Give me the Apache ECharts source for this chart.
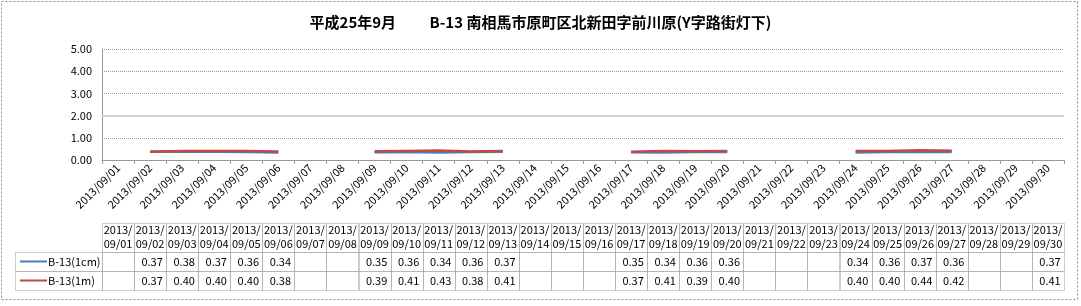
<!DOCTYPE html>
<html><head><meta charset="utf-8">
<script src="https://cdn.jsdelivr.net/npm/echarts@6/dist/echarts.min.js"></script>
<style>html,body{margin:0;padding:0;background:#fff}#c{width:1081px;height:306px}</style>
</head><body><div id="c"></div>
<script>
var title = '平成25年9月　　 B-13 南相馬市原町区北新田字前川原(Y字路街灯下)';
var categories = ['2013/09/01','2013/09/02','2013/09/03','2013/09/04','2013/09/05','2013/09/06','2013/09/07','2013/09/08','2013/09/09','2013/09/10','2013/09/11','2013/09/12','2013/09/13','2013/09/14','2013/09/15','2013/09/16','2013/09/17','2013/09/18','2013/09/19','2013/09/20','2013/09/21','2013/09/22','2013/09/23','2013/09/24','2013/09/25','2013/09/26','2013/09/27','2013/09/28','2013/09/29','2013/09/30'];
var seriesNames = ['B-13(1cm)', 'B-13(1m)'];
var s1cm = [null,0.37,0.38,0.37,0.36,0.34,null,null,0.35,0.36,0.34,0.36,0.37,null,null,null,0.35,0.34,0.36,0.36,null,null,null,0.34,0.36,0.37,0.36,null,null,0.37];
var s1m  = [null,0.37,0.40,0.40,0.40,0.38,null,null,0.39,0.41,0.43,0.38,0.41,null,null,null,0.37,0.41,0.39,0.40,null,null,null,0.40,0.40,0.44,0.42,null,null,0.41];
var yTicks = [0, 1, 2, 3, 4, 5];
var colors = ['#4a7ebb', '#be4b48'];

var FONT = '"Noto Sans CJK JP", "Noto Sans", sans-serif';
var chart = echarts.init(document.getElementById('c'), null, {renderer: 'canvas'});
chart.setOption({
  animation: false,
  backgroundColor: '#fff',
  title: {text: title, left: 'center', top: 10, textStyle: {fontFamily: FONT, fontSize: 15, fontWeight: 'bold', color: '#000'}},
  grid: {left: 102, right: 17, top: 49, bottom: 146, containLabel: false},
  xAxis: {
    type: 'category', data: categories, boundaryGap: true,
    axisLine: {lineStyle: {color: '#999', width: 1}},
    axisTick: {show: true, length: 4, lineStyle: {color: '#999'}},
    axisLabel: {rotate: 45, fontSize: 11, color: '#000', fontFamily: FONT, margin: 6, interval: 0}
  },
  yAxis: {
    type: 'value', min: yTicks[0], max: yTicks[yTicks.length-1], interval: 1,
    axisLine: {show: true, lineStyle: {color: '#999'}},
    axisTick: {show: false},
    splitLine: {lineStyle: {color: '#999', type: [1, 1], width: 1}},
    axisLabel: {formatter: function(v){return v.toFixed(2);}, fontSize: 11, color: '#000', fontFamily: FONT, margin: 10}
  },
  series: [
    {name: seriesNames[0], type: 'line', data: s1cm, showSymbol: false, connectNulls: false,
     lineStyle: {color: colors[0], width: 2.5}, itemStyle: {color: colors[0]},
     markLine: {silent: true, symbol: 'none', label: {show: false}, data: [{yAxis: 2}], lineStyle: {color: '#cfcfcf', width: 2, type: 'solid'}}},
    {name: seriesNames[1], type: 'line', data: s1m, showSymbol: false, connectNulls: false,
     lineStyle: {color: colors[1], width: 2.5}, itemStyle: {color: colors[1]}}
  ]
});

// data table built from the arrays, positioned through the category axis
var p0 = chart.convertToPixel({xAxisIndex: 0}, 0);
var p1 = chart.convertToPixel({xAxisIndex: 0}, 1);
var cw = p1 - p0;
var hTop = 223, hBot = 252, r1Bot = 271, r2Bot = 290, legLeft = 15;
var rowsTop = [hBot, r1Bot], rowsBot = [r1Bot, r2Bot];
var dataRows = [s1cm, s1m];
var els = [];
var border = {stroke: '#9a9a9a', lineWidth: 1, lineDash: [1, 1], fill: null};
function rect(x, y, w, h) { return {type: 'rect', shape: {x: Math.round(x)+0.5, y: y+0.5, width: Math.round(w), height: h}, style: border, silent: true}; }
for (var i = 0; i < categories.length; i++) {
  var cx = chart.convertToPixel({xAxisIndex: 0}, i);
  var left = cx - cw/2;
  els.push(rect(left, hTop, cw, hBot - hTop));
  var parts = categories[i].split('/');
  els.push({type: 'text', x: cx, y: 230, style: {text: parts[0] + '/', font: '11px ' + FONT, fill: '#000', align: 'center', verticalAlign: 'middle'}, silent: true});
  els.push({type: 'text', x: cx, y: 244, style: {text: parts[1] + '/' + parts[2], font: '11px ' + FONT, fill: '#000', align: 'center', verticalAlign: 'middle'}, silent: true});
  for (var r = 0; r < 2; r++) {
    els.push(rect(left, rowsTop[r], cw, rowsBot[r] - rowsTop[r]));
    var v = dataRows[r][i];
    if (v !== null) {
      els.push({type: 'text', x: cx + 2, y: (rowsTop[r] + rowsBot[r]) / 2 + 0.5, style: {text: v.toFixed(2), font: '11px ' + FONT, fill: '#000', align: 'center', verticalAlign: 'middle'}, silent: true});
    }
  }
}
var firstLeft = p0 - cw/2;
for (var r = 0; r < 2; r++) {
  var cy = (rowsTop[r] + rowsBot[r]) / 2;
  els.push(rect(legLeft, rowsTop[r], firstLeft - legLeft, rowsBot[r] - rowsTop[r]));
  els.push({type: 'line', shape: {x1: 20, y1: cy, x2: 47, y2: cy}, style: {stroke: colors[r], lineWidth: 2}, silent: true});
  els.push({type: 'text', x: 48, y: cy + 0.5, style: {text: seriesNames[r], font: '11px ' + FONT, fill: '#000', align: 'left', verticalAlign: 'middle'}, silent: true});
}
els.push({type: 'rect', shape: {x: 1.5, y: 1.5, width: 1076, height: 298}, style: {stroke: '#8a8a8a', lineWidth: 1, lineDash: [2, 2], fill: null}, silent: true});
chart.setOption({graphic: {elements: els}});
</script></body></html>
